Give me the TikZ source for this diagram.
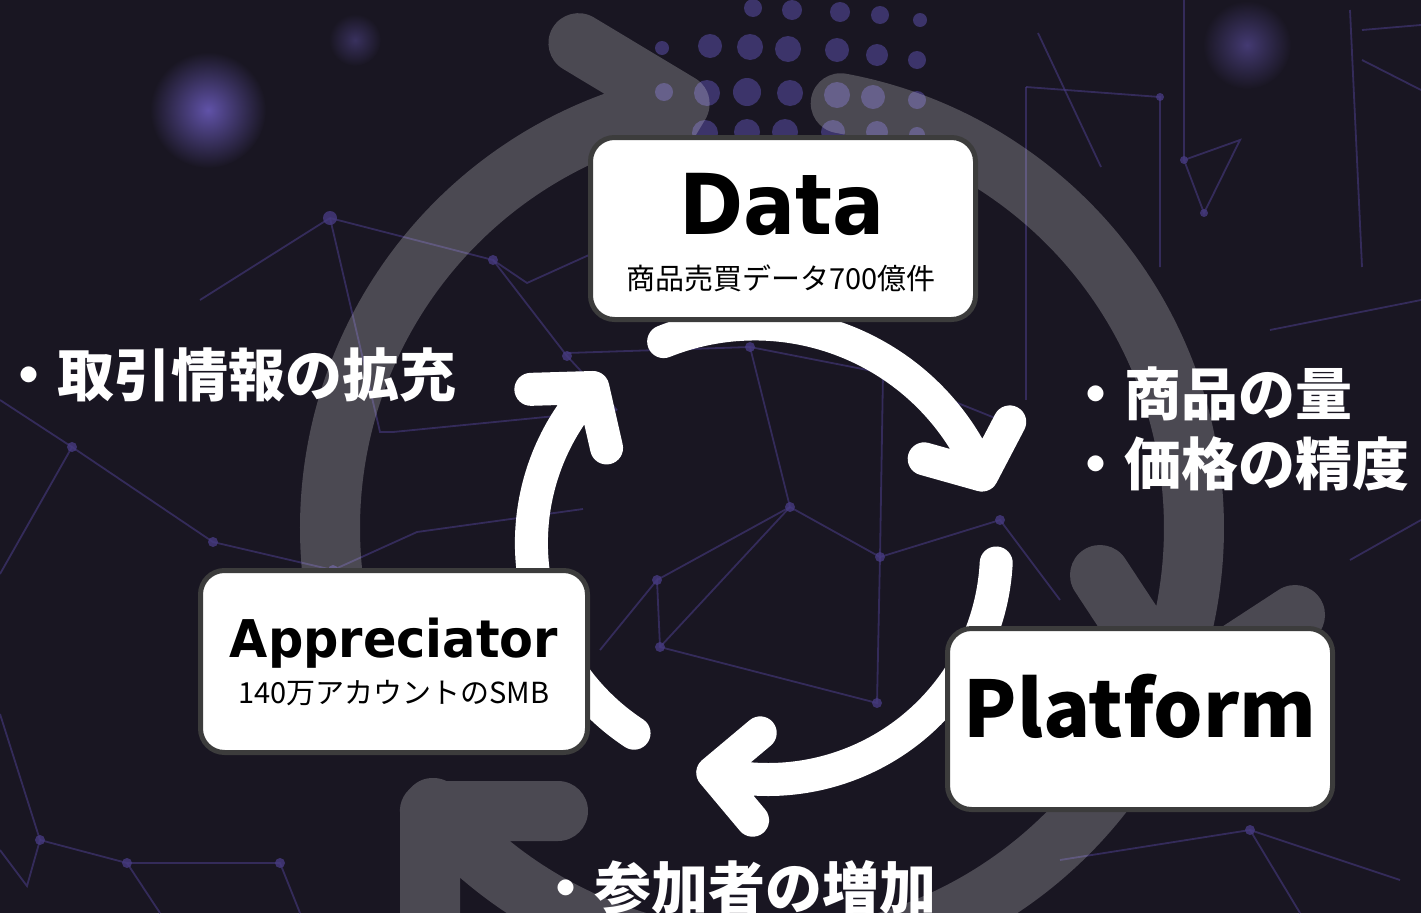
\documentclass[tikz,border=0pt]{standalone}
\usepackage{fontspec}
\usetikzlibrary{calc}
\newfontfamily\jp{Noto Sans CJK JP}
\newfontfamily\dataf{DejaVu Sans}[FakeStretch=0.92]
\newfontfamily\apprf{DejaVu Sans}[FakeStretch=0.95]
\definecolor{bgc}{HTML}{191622}
\definecolor{boxline}{HTML}{3C3C3C}
\definecolor{netc}{RGB}{70,58,128}
\definecolor{dotc}{RGB}{60,52,106}
\definecolor{glowc}{RGB}{96,82,168}
\begin{document}
\begin{tikzpicture}[x=1pt,y=-1pt,
  box/.style={draw=boxline, line width=5pt, fill=white, rounded corners=24pt, inner sep=0pt},
  gband/.style={draw=white, draw opacity=0.22, line width=60pt, line cap=round, line join=round},
  wband/.style={draw=white, line width=33pt, line cap=round, line join=round},
  net/.style={draw=netc, line width=1.8pt, draw opacity=0.6},
  bullet/.style={text=white, inner sep=0pt, anchor=base west, font=\jp\bfseries\fontsize{57pt}{60pt}\selectfont},
  lbl/.style={inner sep=0pt, anchor=base, text=black}
]
\fill[bgc] (0,0) rectangle (1421,913);
\useasboundingbox (0,0) rectangle (1421,913);

% glows
\shade[inner color=glowc, outer color=bgc] (208,110) circle[radius=58];
\shade[inner color=glowc!60!bgc, outer color=bgc] (1247,45) circle[radius=44];
\shade[inner color=glowc!45!bgc, outer color=bgc] (355,40) circle[radius=26];

% background network
\begin{scope}[net]
\draw (0,574) -- (72,447) -- (213,542) -- (333,570) -- (417,532) -- (583,509);
\draw (72,447) -- (0,400);
\draw (0,714) -- (40,840) -- (27,886) -- (0,850);
\draw (40,840) -- (127,863) -- (280,863) -- (300,913);
\draw (127,863) -- (160,913);
\draw (330,218) -- (493,260) -- (567,356) -- (617,410);
\draw (330,218) -- (380,432) -- (393,432) -- (617,410);
\draw (493,260) -- (527,283) -- (600,250);
\draw (567,353) -- (750,347) -- (883,373) -- (1000,420);
\draw (750,347) -- (790,507) -- (880,557) -- (883,373);
\draw (657,580) -- (790,507);
\draw (600,650) -- (657,580) -- (660,647) -- (877,703) -- (880,557);
\draw (660,647) -- (790,507);
\draw (880,557) -- (1000,520) -- (1060,600);
\draw (1038,33) -- (1101,167);
\draw (1026,87) -- (1160,97) -- (1160,267);
\draw (1026,87) -- (1026,400);
\draw (1184,0) -- (1184,160) -- (1240,140) -- (1204,213) -- (1184,160);
\draw (1350,10) -- (1362,267);
\draw (1362,30) -- (1421,25);
\draw (1362,60) -- (1421,90);
\draw (1270,330) -- (1421,300);
\draw (1060,860) -- (1250,830) -- (1400,880);
\draw (1250,830) -- (1300,913);
\draw (1350,560) -- (1421,520);
\draw (200,300) -- (330,218);
\end{scope}
\foreach \x/\y/\r in {72/447/5,213/542/5,333/570/5,330/218/7,493/260/5,567/356/5,40/840/5,127/863/5,280/863/5,790/507/5,880/557/5,657/580/5,660/647/5,877/703/5,750/347/5,883/373/5,1160/97/4,1184/160/4,1204/213/4,1250/830/5,1000/520/5}
  \fill[netc, opacity=0.8] (\x,\y) circle[radius=\r];

% top dot grid
\foreach \x/\y/\r in {753/8/9,792/10/10,840/12/10,880/15/9,920/20/7,
  710/46/12,750/47/13,788/49/13,837/50/12,877/55/11,917/60/9,
  707/93/13,747/92/14,790/93/13,837/95/13,873/97/12,917/100/9,
  705/133/13,747/132/13,785/132/13,833/132/12,877/132/11,917/135/8,
  662/48/7,664/92/9}
  \fill[dotc] (\x,\y) circle[radius=\r];

% big grey cycle
\coordinate (gc) at (762,528);
\coordinate (ga) at ($(gc)+(259:432)$);
\coordinate (gb) at (1177,692);
\coordinate (gcc) at (430,811);
\draw[gband] ($(gc)+(165:432)$) arc[start angle=165,end angle=259,radius=432]
   -- ($(ga)+(211:118)$) (ga) -- ($(ga)+(121:118)$);
\draw[gband] ($(gc)+(280.5:432)$) arc[start angle=280.5,end angle=381.6,radius=432]
   -- (gb) -- (1295,615) (gb) -- (1100,575);
\draw[gband] ($(gc)+(35:432)$) arc[start angle=35,end angle=139.6,radius=432]
   -- (gcc) -- (558,811) (gcc) -- (430,945);

% white cycle
\coordinate (w1) at (755,570);
\coordinate (w1t) at ($(w1)+(337.3:246)$);
\coordinate (w2) at (768,551);
\coordinate (w2t) at ($(w2)+(104:228.5)$);
\coordinate (w3) at (759,543);
\coordinate (w3t) at ($(w3)+(223.1:227.6)$);
\draw[wband] ($(w1)+(248.2:246)$) arc[start angle=248.2,end angle=337.3,radius=246]
   -- ($(w1t)+(195.7:60)$) (w1t) -- ($(w1t)+(297.6:60)$);
\draw[wband] ($(w2)+(3:228.5)$) arc[start angle=3,end angle=104,radius=228.5]
   -- ($(w2t)+(-40:62)$) (w2t) -- ($(w2t)+(50:62)$);
\draw[wband] ($(w3)+(123.3:227.6)$) arc[start angle=123.3,end angle=223.1,radius=227.6]
   -- ($(w3t)+(178.3:62)$) (w3t) -- ($(w3t)+(77.2:62)$);

% boxes
\node[box, minimum width=385pt, minimum height=182pt] (data) at (783,228.5) {};
\node[box, minimum width=387pt, minimum height=182pt] (appr) at (394,661.5) {};
\node[box, minimum width=385pt, minimum height=181pt] (plat) at (1140,719) {};

\node[lbl, font=\dataf\bfseries\fontsize{84pt}{90pt}\selectfont] (dataT) at (782,234) {Data};
\node[lbl, font=\jp\fontsize{29pt}{32pt}\selectfont] (dataS) at (781,289) {商品売買データ700億件};
\node[lbl, font=\apprf\bfseries\fontsize{52pt}{56pt}\selectfont] (apprT) at (394,657) {Appreciator};
\node[lbl, font=\jp\fontsize{29pt}{32pt}\selectfont] (apprS) at (394,703) {140万アカウントのSMB};
\node[lbl, font=\jp\bfseries\fontsize{78pt}{84pt}\selectfont] (platT) at (1140,737) {Platform};

% bullet texts
\node[bullet] (t1) at (0,396) {・取引情報の拡充};
\node[bullet] (t2) at (1067,415) {・商品の量};
\node[bullet] (t3) at (1067,485) {・価格の精度};
\node[bullet] (t4) at (537,909) {・参加者の増加};
\end{tikzpicture}
\end{document}
